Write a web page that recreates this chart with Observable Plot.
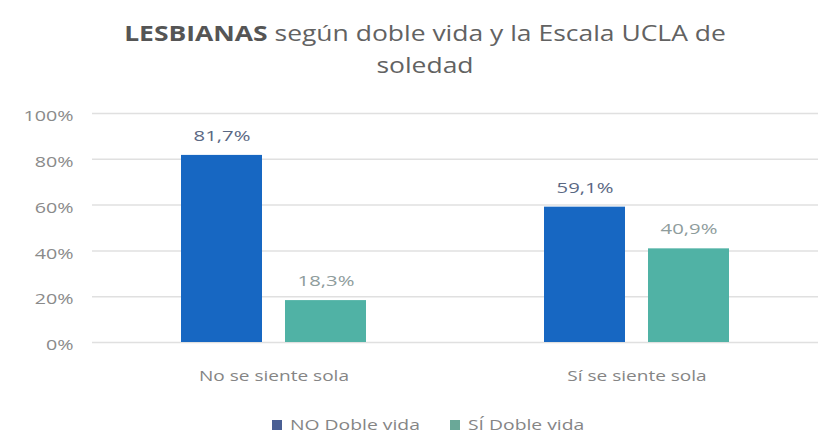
<!DOCTYPE html>
<html>
<head>
<meta charset="utf-8">
<script src="https://cdn.jsdelivr.net/npm/d3@7"></script>
<script src="https://cdn.jsdelivr.net/npm/@observablehq/plot@0.6"></script>
<style>
  html, body { margin: 0; padding: 0; background: #fff; }
  body { width: 818px; height: 436px; overflow: hidden; font-family: "Open Sans", sans-serif; position: relative; }
  #title { position: absolute; left: 0; top: 0; width: 850px; height: 95px; box-sizing: border-box; padding-top: 17px;
           text-align: center; color: #626262; font-size: 21px; line-height: 32px; white-space: nowrap;
           transform: scaleX(1.26); transform-origin: 425px 0; }
  #title b { font-weight: 700; color: #555555; }
  #chart { position: absolute; left: 0; top: 95px; }
  #legend { position: absolute; left: 272px; top: 417px; display: flex; align-items: center; font-size: 14px; line-height: 16px;
            color: #858585; white-space: nowrap; }
  #legend .item { display: flex; align-items: center; }
  #legend .sw { display: inline-block; width: 10px; height: 10px; margin-right: 8px; }
  #legend .lbl { display: inline-block; transform: scaleX(1.38); transform-origin: 0 50%; }
</style>
</head>
<body>
<div id="title"><b>LESBIANAS</b> según doble vida y la Escala UCLA de<br>soledad</div>
<div id="chart"></div>
<div id="legend"></div>
<script>
const categories = ["No se siente sola", "Sí se siente sola"];
const series = ["NO Doble vida", "SÍ Doble vida"];
const noDobleVida = [81.7, 59.1];
const siDobleVida = [18.3, 40.9];
const yTicks = [0, 20, 40, 60, 80, 100];
const colors = ["#1767c2", "#50b2a5"];
const legendColors = ["#4a5f94", "#6aa898"];
const labelColors = ["#5a6883", "#8e9c9c"];

const data = [];
categories.forEach((c, i) => {
  data.push({category: c, serie: series[0], value: noDobleVida[i]});
  data.push({category: c, serie: series[1], value: siDobleVida[i]});
});

const fmt = v => v.toFixed(1).replace(".", ",") + "%";

const chart = Plot.plot({
  width: 818,
  height: 300,
  marginLeft: 91,
  marginRight: 0,
  marginTop: 18,
  marginBottom: 53,
  style: {fontFamily: "Open Sans, sans-serif", fontSize: "15px", color: "#858585", background: "#fff", overflow: "visible"},
  fx: {domain: categories, padding: 0, label: null, axis: null},
  x: {domain: series, paddingInner: 0.22, paddingOuter: 0.84, axis: null},
  y: {domain: [0, 100], label: null, axis: null},
  color: {domain: series, range: colors},
  marks: [
    Plot.ruleY(yTicks, {stroke: "#e0e0e0", strokeWidth: 1.5}),
    Plot.axisY(yTicks, {facetAnchor: "left", tickSize: 0, tickPadding: 19, tickFormat: d => d + "%", label: null,
      fontSize: 14.5, dy: 3, fill: "#8a8a8a"}),
    Plot.axisFx({anchor: "bottom", tickSize: 0, tickPadding: 28, label: null, fontSize: 15, fill: "#858585"}),
    Plot.barY(data, {fx: "category", x: "serie", y: "value", fill: "serie"}),
    Plot.text(data, {fx: "category", x: "serie", y: "value", text: d => fmt(d.value), dy: -19,
      fill: d => labelColors[series.indexOf(d.serie)], fontSize: 14.5})
  ]
});

// stretch text glyphs horizontally around their anchor (the reference's text is wide)
function stretch(sel, s) {
  chart.querySelectorAll(sel).forEach(t => {
    let tr = t.getAttribute("transform") || "";
    const x = t.getAttribute("x");
    if (x !== null && !isNaN(+x)) {
      tr += ` translate(${+x},0)`;
      t.removeAttribute("x");
    }
    t.setAttribute("transform", tr + ` scale(${s},1)`);
  });
}
stretch('g[aria-label="y-axis tick label"] text', 1.36);
stretch('g[aria-label="fx-axis tick label"] text', 1.27);
stretch('g[aria-label="text"] text', 1.4);

document.getElementById("chart").appendChild(chart);

const legend = document.getElementById("legend");
const gaps = [0, 30];
series.forEach((s, i) => {
  const item = document.createElement("div");
  item.className = "item";
  item.style.marginLeft = gaps[i] + "px";
  item.innerHTML = `<span class="sw" style="background:${legendColors[i]}"></span><span class="lbl">${s}</span>`;
  legend.appendChild(item);
});
const firstLbl = legend.querySelector(".item .lbl");
legend.children[1].style.marginLeft = (gaps[1] + firstLbl.offsetWidth * 0.38) + "px";
</script>
</body>
</html>
